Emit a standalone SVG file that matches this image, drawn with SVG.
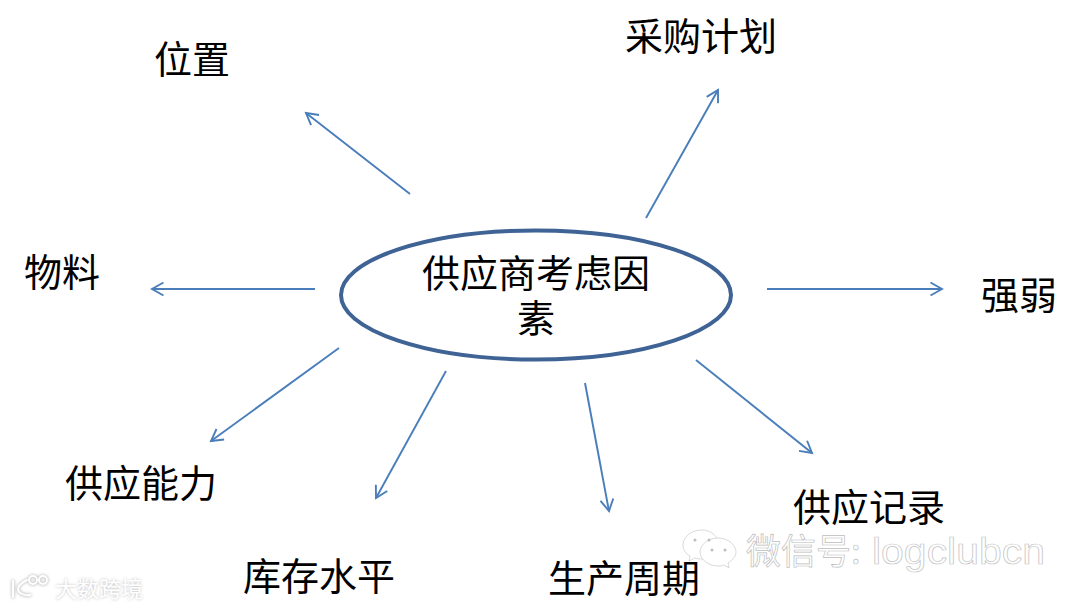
<svg xmlns="http://www.w3.org/2000/svg" width="1082" height="609" viewBox="0 0 1082 609">
<defs>
<marker id="arr" markerUnits="userSpaceOnUse" markerWidth="18" markerHeight="18" refX="14" refY="9" orient="auto"><path d="M2.500 2.500L14 9L2.500 15.500" fill="none" stroke="#4a7ebb" stroke-width="1.900"/></marker>
<filter id="soft" x="-10%" y="-30%" width="120%" height="160%"><feGaussianBlur stdDeviation="1.600"/></filter>
</defs>
<style>
text{font-family:"Noto Sans CJK SC","Liberation Sans",sans-serif;fill:#000}
.lab{font-size:38px;text-anchor:middle}
.c{fill:none;stroke:#4a7ebb;stroke-width:1.900;marker-end:url(#arr)}
.wm{fill:#fff;stroke:#cfcfcf;stroke-width:.8}
.kj{font-size:22px;fill:#fff}
.kjs{font-size:22px;fill:#bdbdbd}
</style>
<rect width="1082" height="609" fill="#fff"/>
<g id="connectors">
<line class="c" x1="410" y1="194" x2="306" y2="113"/>
<line class="c" x1="646" y1="218" x2="718" y2="90"/>
<line class="c" x1="315" y1="289" x2="152" y2="289"/>
<line class="c" x1="767" y1="289" x2="942" y2="289"/>
<line class="c" x1="339" y1="348" x2="211" y2="441"/>
<line class="c" x1="446" y1="371" x2="376" y2="498"/>
<line class="c" x1="585" y1="383" x2="609" y2="511"/>
<line class="c" x1="696" y1="360" x2="812" y2="453"/>
</g>
<g id="center"><ellipse cx="536" cy="295" rx="195" ry="64.500" fill="#fff" stroke="#3e6394" stroke-width="4"/>
<text class="lab" x="536" y="287">供应商考虑因</text><text class="lab" x="536" y="332">素</text></g>
<g id="n-location"><text class="lab" x="192" y="73">位置</text></g>
<g id="n-plan"><text class="lab" x="701" y="50">采购计划</text></g>
<g id="n-material"><text class="lab" x="62" y="286">物料</text></g>
<g id="n-strength"><text class="lab" x="1019" y="309">强弱</text></g>
<g id="n-capacity"><text class="lab" x="141" y="497">供应能力</text></g>
<g id="n-stock"><text class="lab" x="319" y="590">库存水平</text></g>
<g id="n-cycle"><text class="lab" x="624" y="592">生产周期</text></g>
<g id="n-record"><text class="lab" x="869" y="521">供应记录</text></g>
<g id="watermark-wechat">
<path class="wm" d="M702 530c-11 0-19 7-19 15 0 5 3 9 7 11l-1 5 6-3c3 1 5 1 7 1 9 0 17-6 17-14s-8-15-17-15z"/>
<path class="wm" d="M718 538c-10 0-18 7-18 14s8 14 18 14c2 0 4 0 6-1l5 3-1-5c5-3 8-7 8-11 0-7-8-14-18-14z"/>
<g fill="#bdbdbd"><circle cx="695" cy="540" r="1.500"/><circle cx="709" cy="540" r="1.500"/><circle cx="712" cy="550" r="1.500"/><circle cx="725" cy="550" r="1.500"/></g>
<text x="746" y="564" font-size="35" style="fill:#fff;stroke:#bdbdbd;stroke-width:.7">微信号:</text>
<text x="872" y="564" font-size="37" textLength="173" lengthAdjust="spacingAndGlyphs" style="font-family:'Liberation Sans',sans-serif;fill:#fff;stroke:#c4c4c4;stroke-width:.7">logclubcn</text>
</g>
<g id="watermark-kj">
<text class="kjs" x="55" y="597" filter="url(#soft)">大数跨境</text>
<text class="kj" x="55" y="597">大数跨境</text>
<g fill="none" stroke-linecap="round" filter="url(#soft)" stroke="#bdbdbd" stroke-width="3"><path d="M13 581v16M27 580c-6 3-9 6-9 9s4 7 12 6"/><circle cx="33" cy="580" r="4"/><circle cx="43" cy="580" r="4"/></g>
<g fill="none" stroke-linecap="round" stroke="#fff" stroke-width="2"><path d="M13 581v16M27 580c-6 3-9 6-9 9s4 7 12 6"/><circle cx="33" cy="580" r="4"/><circle cx="43" cy="580" r="4"/></g>
</g>
</svg>
